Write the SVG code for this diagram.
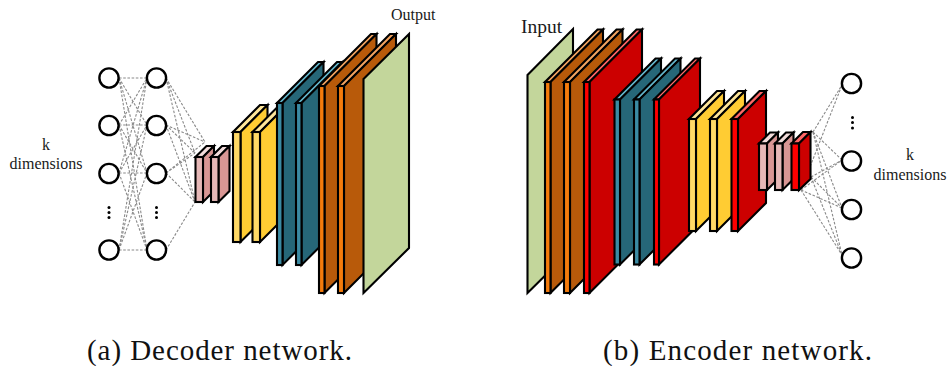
<svg xmlns="http://www.w3.org/2000/svg" width="948" height="366" viewBox="0 0 948 366">
<style>
text{font-family:"Liberation Serif","Times New Roman",serif;fill:#1a1a1a}
.m{text-anchor:middle}
.lab{font-size:16px}
.cap{font-size:29px;fill:#111}
.n{fill:#fff;stroke:#000;stroke-width:2.4}
.d{fill:#000}
#conn line{stroke:#8a8a8a;stroke-width:1.1;stroke-dasharray:2.6 1.6}
polygon,rect{stroke:#000;stroke-width:2.1;stroke-linejoin:miter}
.pf{fill:#e6b8b7}.ps{fill:#d99694}.pt{fill:#f2dcdb}
.yf{fill:#ffd966}.ys{fill:#ffcc33}.yt{fill:#ffe699}
.tf{fill:#3b8ba3}.ts{fill:#266778}.tt{fill:#62b5cb}
.of{fill:#f47b0c}.os{fill:#b85a0a}.ot{fill:#f4a460}
.rf{fill:#ff0000}.rs{fill:#cc0000}.rt{fill:#ff6666}
.g{fill:#c3d69b}
</style>
<g id="conn">
<line x1="119" y1="78" x2="147" y2="78"/><line x1="119" y1="78" x2="147" y2="125"/><line x1="119" y1="78" x2="147" y2="173"/><line x1="119" y1="78" x2="147" y2="250"/>
<line x1="119" y1="125" x2="147" y2="78"/><line x1="119" y1="125" x2="147" y2="125"/><line x1="119" y1="125" x2="147" y2="173"/><line x1="119" y1="125" x2="147" y2="250"/>
<line x1="119" y1="173" x2="147" y2="78"/><line x1="119" y1="173" x2="147" y2="125"/><line x1="119" y1="173" x2="147" y2="173"/><line x1="119" y1="173" x2="147" y2="250"/>
<line x1="119" y1="250" x2="147" y2="78"/><line x1="119" y1="250" x2="147" y2="125"/><line x1="119" y1="250" x2="147" y2="173"/><line x1="119" y1="250" x2="147" y2="250"/>
<line x1="166" y1="78" x2="205" y2="142"/><line x1="166" y1="78" x2="195" y2="153"/><line x1="166" y1="78" x2="195" y2="202"/>
<line x1="166" y1="125" x2="205" y2="142"/><line x1="166" y1="125" x2="195" y2="153"/><line x1="166" y1="125" x2="195" y2="202"/>
<line x1="166" y1="173" x2="205" y2="142"/><line x1="166" y1="173" x2="195" y2="153"/><line x1="166" y1="173" x2="195" y2="202"/>
<line x1="166" y1="250" x2="195" y2="202"/>
<line x1="813" y1="132" x2="842" y2="85"/><line x1="801" y1="190" x2="842" y2="85"/>
<line x1="813" y1="132" x2="842" y2="160"/><line x1="811" y1="177" x2="842" y2="160"/><line x1="801" y1="190" x2="842" y2="160"/>
<line x1="813" y1="132" x2="842" y2="208"/><line x1="811" y1="177" x2="842" y2="208"/><line x1="801" y1="190" x2="842" y2="208"/>
<line x1="813" y1="132" x2="842" y2="255"/><line x1="811" y1="177" x2="842" y2="255"/><line x1="801" y1="190" x2="842" y2="255"/>
</g>
<g id="dec-in-1"><circle class="n" cx="109" cy="78" r="9.6"/></g>
<g id="dec-in-2"><circle class="n" cx="109" cy="125.5" r="9.6"/></g>
<g id="dec-in-3"><circle class="n" cx="109" cy="173.5" r="9.6"/></g>
<g id="dec-in-4"><circle class="n" cx="109" cy="250" r="9.6"/></g>
<g id="dec-h-1"><circle class="n" cx="156.5" cy="78" r="9.6"/></g>
<g id="dec-h-2"><circle class="n" cx="156.5" cy="125.5" r="9.6"/></g>
<g id="dec-h-3"><circle class="n" cx="156.5" cy="173.5" r="9.6"/></g>
<g id="dec-h-4"><circle class="n" cx="156.5" cy="250" r="9.6"/></g>
<g id="dec-dots" class="d"><circle cx="109" cy="207.5" r="1.5"/><circle cx="109" cy="212.5" r="1.5"/><circle cx="109" cy="217.5" r="1.5"/><circle cx="156.5" cy="207.5" r="1.5"/><circle cx="156.5" cy="212.5" r="1.5"/><circle cx="156.5" cy="217.5" r="1.5"/></g>
<g id="dec-p1"><polygon class="pt" points="195.5,157 203,157 214,146 206.5,146"/><polygon class="ps" points="203,157 214,146 214,191 203,202"/><rect class="pf" x="195.5" y="157" width="7.5" height="45"/></g>
<g id="dec-p2"><polygon class="pt" points="211,157 218.5,157 229.5,146 222,146"/><polygon class="ps" points="218.5,157 229.5,146 229.5,191 218.5,202"/><rect class="pf" x="211" y="157" width="7.5" height="45"/></g>
<g id="dec-y1"><polygon class="yt" points="233,132 240.5,132 267.5,105 260,105"/><polygon class="ys" points="240.5,132 267.5,105 267.5,215 240.5,242"/><rect class="yf" x="233" y="132" width="7.5" height="110"/></g>
<g id="dec-y2"><polygon class="yt" points="252.5,132 260,132 287,105 279.5,105"/><polygon class="ys" points="260,132 287,105 287,215 260,242"/><rect class="yf" x="252.5" y="132" width="7.5" height="110"/></g>
<g id="dec-t1"><polygon class="tt" points="277,103 282.5,103 323.5,62 318,62"/><polygon class="ts" points="282.5,103 323.5,62 323.5,224 282.5,265"/><rect class="tf" x="277" y="103" width="5.5" height="162"/></g>
<g id="dec-t2"><polygon class="tt" points="296,103 301.5,103 342.5,62 337,62"/><polygon class="ts" points="301.5,103 342.5,62 342.5,224 301.5,265"/><rect class="tf" x="296" y="103" width="5.5" height="162"/></g>
<g id="dec-o1"><polygon class="ot" points="319,86 324.5,86 376.5,34 371,34"/><polygon class="os" points="324.5,86 376.5,34 376.5,241 324.5,293"/><rect class="of" x="319" y="86" width="5.5" height="207"/></g>
<g id="dec-o2"><polygon class="ot" points="338,86 344,86 396,34 390,34"/><polygon class="os" points="344,86 396,34 396,241 344,293"/><rect class="of" x="338" y="86" width="6" height="207"/></g>
<g id="dec-output"><polygon class="g" points="363.5,79 409,34 409,248 363.5,293"/></g>
<g id="enc-input"><polygon class="g" points="527.5,75 573,29 573,248 527.5,293"/></g>
<g id="enc-o1"><polygon class="ot" points="545,82 550.5,82 603,29.5 597.5,29.5"/><polygon class="os" points="550.5,82 603,29.5 603,240.5 550.5,293"/><rect class="of" x="545" y="82" width="5.5" height="211"/></g>
<g id="enc-o2"><polygon class="ot" points="564,82 570,82 622.5,29.5 616.5,29.5"/><polygon class="os" points="570,82 622.5,29.5 622.5,240.5 570,293"/><rect class="of" x="564" y="82" width="6" height="211"/></g>
<g id="enc-r1"><polygon class="rt" points="584,82 589.5,82 642,29.5 636.5,29.5"/><polygon class="rs" points="589.5,82 642,29.5 642,240.5 589.5,293"/><rect class="rf" x="584" y="82" width="5.5" height="211"/></g>
<g id="enc-t1"><polygon class="tt" points="614.5,99.5 620,99.5 661,58.5 655.5,58.5"/><polygon class="ts" points="620,99.5 661,58.5 661,223.5 620,264.5"/><rect class="tf" x="614.5" y="99.5" width="5.5" height="165"/></g>
<g id="enc-t2"><polygon class="tt" points="634,99.5 639.5,99.5 680.5,58.5 675,58.5"/><polygon class="ts" points="639.5,99.5 680.5,58.5 680.5,223.5 639.5,264.5"/><rect class="tf" x="634" y="99.5" width="5.5" height="165"/></g>
<g id="enc-r2"><polygon class="rt" points="654,99.5 659,99.5 700,58.5 695,58.5"/><polygon class="rs" points="659,99.5 700,58.5 700,223.5 659,264.5"/><rect class="rf" x="654" y="99.5" width="5" height="165"/></g>
<g id="enc-y1"><polygon class="yt" points="689,119 696,119 724,91 717,91"/><polygon class="ys" points="696,119 724,91 724,203 696,231"/><rect class="yf" x="689" y="119" width="7" height="112"/></g>
<g id="enc-y2"><polygon class="yt" points="710,119 717,119 745,91 738,91"/><polygon class="ys" points="717,119 745,91 745,203 717,231"/><rect class="yf" x="710" y="119" width="7" height="112"/></g>
<g id="enc-r3"><polygon class="rt" points="731.5,119 738,119 766,91 759.5,91"/><polygon class="rs" points="738,119 766,91 766,203 738,231"/><rect class="rf" x="731.5" y="119" width="6.5" height="112"/></g>
<g id="enc-p1"><polygon class="pt" points="759,143.5 767,143.5 778,132.5 770,132.5"/><polygon class="ps" points="767,143.5 778,132.5 778,179 767,190"/><rect class="pf" x="759" y="143.5" width="8" height="46.5"/></g>
<g id="enc-p2"><polygon class="pt" points="775,143.5 782.5,143.5 793.5,132.5 786,132.5"/><polygon class="ps" points="782.5,143.5 793.5,132.5 793.5,179 782.5,190"/><rect class="pf" x="775" y="143.5" width="7.5" height="46.5"/></g>
<g id="enc-r4"><polygon class="rt" points="791.5,143.5 799,143.5 810.5,132 803,132"/><polygon class="rs" points="799,143.5 810.5,132 810.5,179 799,190"/><rect class="rf" x="791.5" y="143.5" width="7.5" height="46.5"/></g>
<g id="enc-n1"><circle class="n" cx="851.5" cy="83.5" r="9.6"/></g>
<g id="enc-n2"><circle class="n" cx="851.5" cy="161" r="9.6"/></g>
<g id="enc-n3"><circle class="n" cx="851.5" cy="209.5" r="9.6"/></g>
<g id="enc-n4"><circle class="n" cx="851.5" cy="258" r="9.6"/></g>
<g id="enc-dots" class="d"><circle cx="852.5" cy="117.5" r="1.5"/><circle cx="852.5" cy="122.5" r="1.5"/><circle cx="852.5" cy="128" r="1.5"/></g>
<g id="labels">
<text class="lab m" x="46" y="150">k</text>
<text class="lab m" x="46" y="169">dimensions</text>
<text class="lab m" x="910" y="160">k</text>
<text class="lab m" x="910" y="180">dimensions</text>
<text x="391" y="20" font-size="16">Output</text>
<text x="521" y="33" font-size="19.5">Input</text>
<text class="cap" x="87" y="360" textLength="265" lengthAdjust="spacing">(a) Decoder network.</text>
<text class="cap" x="603" y="360" textLength="269" lengthAdjust="spacing">(b) Encoder network.</text>
</g>
</svg>
